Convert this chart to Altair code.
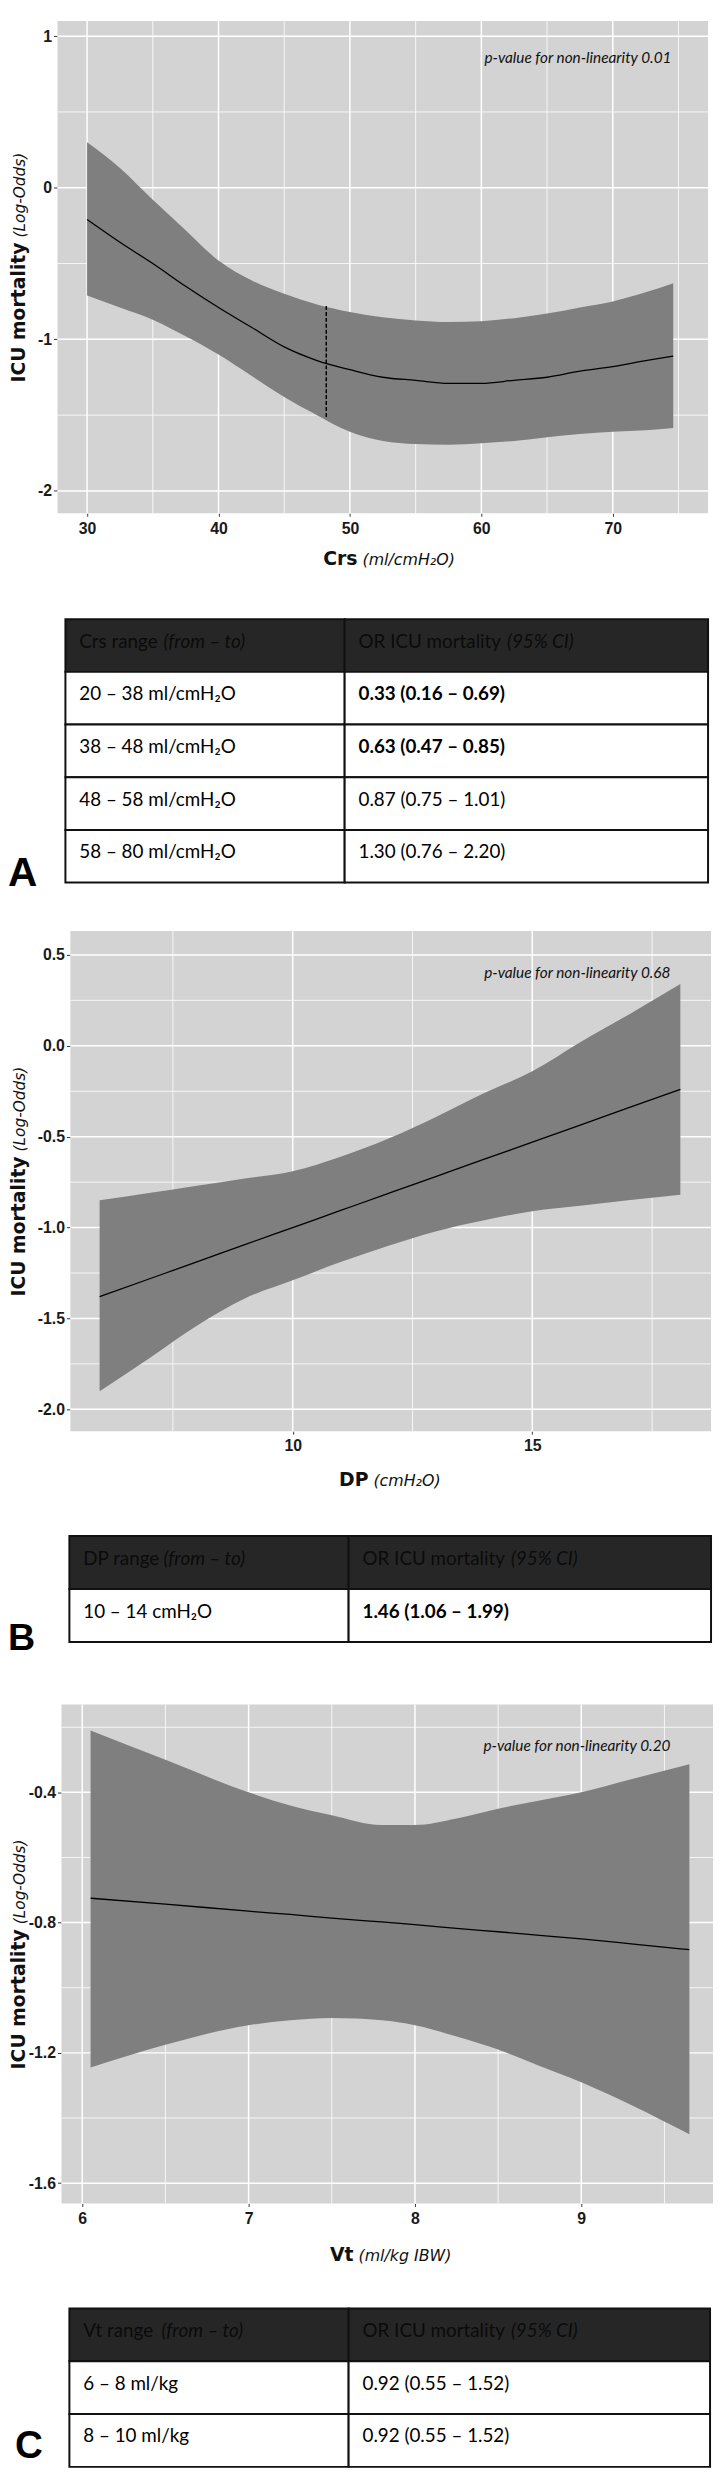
import altair as alt
import pandas as pd

# ---------------- Panel A : Crs ----------------
a_x = [30, 32.5, 35, 37.5, 40, 42.5, 45, 47.5, 50, 52.5, 55, 57.5, 60, 62.5, 65, 67.5, 70, 72.5, 74.6]
a_fit = [-0.21, -0.36, -0.50, -0.65, -0.79, -0.92, -1.05, -1.14, -1.20, -1.25, -1.27, -1.29, -1.29,
         -1.27, -1.25, -1.21, -1.18, -1.14, -1.11]
a_upper = [0.30, 0.13, -0.08, -0.28, -0.48, -0.61, -0.70, -0.77, -0.82, -0.855, -0.875, -0.885, -0.88,
           -0.86, -0.83, -0.79, -0.75, -0.69, -0.63]
a_lower = [-0.71, -0.79, -0.87, -0.98, -1.10, -1.24, -1.38, -1.50, -1.61, -1.67, -1.69, -1.695, -1.685,
           -1.67, -1.645, -1.625, -1.61, -1.60, -1.585]
a_cut_x = [48.2]
a_cut_top = [-0.78]
a_cut_bottom = [-1.52]
a_x_ticks = [30, 40, 50, 60, 70]
a_x_minor = [35, 45, 55, 65, 75]
a_y_ticks = [-2, -1, 0, 1]
a_y_minor = [-1.5, -0.5, 0.5]
a_x_domain = [27.75, 77.25]
a_y_domain = [-2.147, 1.099]
a_pvalue = ["p-value for non-linearity 0.01"]
a_xtitle = ["Crs", "(ml/cmH\u2082O)"]
a_head = ["Crs range", "(from \u2013 to)", "OR ICU mortality", "(95% CI)"]
a_ranges = ["20 \u2013 38 ml/cmH\u2082O", "38 \u2013 48 ml/cmH\u2082O", "48 \u2013 58 ml/cmH\u2082O", "58 \u2013 80 ml/cmH\u2082O"]
a_or = ["0.33 (0.16 \u2013 0.69)", "0.63 (0.47 \u2013 0.85)", "0.87 (0.75 \u2013 1.01)", "1.30 (0.76 \u2013 2.20)"]
a_bold = [True, True, False, False]   # significant OR values shown in bold
a_letter = ["A"]

# ---------------- Panel B : DP ----------------
b_x = [5.97, 7, 8, 9, 10, 11, 12, 13, 14, 15, 16, 17, 18.09]
b_fit = [-1.38, -1.283, -1.189, -1.094, -1.0, -0.906, -0.812, -0.718, -0.624, -0.53, -0.436, -0.342, -0.24]
b_upper = [-0.85, -0.81, -0.77, -0.73, -0.69, -0.61, -0.51, -0.39, -0.26, -0.14, 0.02, 0.17, 0.34]
b_lower = [-1.90, -1.72, -1.54, -1.39, -1.29, -1.19, -1.10, -1.02, -0.96, -0.91, -0.88, -0.85, -0.82]
b_x_ticks = [10, 15]
b_x_minor = [7.5, 12.5, 17.5]
b_y_ticks = [-2.0, -1.5, -1.0, -0.5, 0.0, 0.5]
b_y_minor = [-1.75, -1.25, -0.75, -0.25, 0.25]
b_x_domain = [5.36, 18.73]
b_y_domain = [-2.12, 0.631]
b_pvalue = ["p-value for non-linearity 0.68"]
b_xtitle = ["DP", "(cmH\u2082O)"]
b_head = ["DP range", "(from \u2013 to)", "OR ICU mortality", "(95% CI)"]
b_ranges = ["10 \u2013 14 cmH\u2082O"]
b_or = ["1.46 (1.06 \u2013 1.99)"]
b_bold = [True]
b_letter = ["B"]

# ---------------- Panel C : Vt ----------------
c_x = [6.05, 6.5, 7.0, 7.25, 7.5, 7.8, 8.0, 8.25, 8.5, 8.75, 9.0, 9.3, 9.65]
c_fit = [-0.725, -0.743, -0.765, -0.775, -0.786, -0.798, -0.806, -0.818, -0.828, -0.839, -0.85, -0.865, -0.883]
c_upper = [-0.21, -0.30, -0.40, -0.44, -0.47, -0.50, -0.50, -0.48, -0.45, -0.425, -0.40, -0.36, -0.314]
c_lower = [-1.245, -1.175, -1.115, -1.10, -1.093, -1.10, -1.115, -1.15, -1.19, -1.24, -1.29, -1.36, -1.45]
c_x_ticks = [6, 7, 8, 9]
c_x_minor = [6.5, 7.5, 8.5, 9.5]
c_y_ticks = [-1.6, -1.2, -0.8, -0.4]
c_y_minor = [-1.4, -1.0, -0.6, -0.2]
c_x_domain = [5.875, 9.792]
c_y_domain = [-1.6625, -0.13]
c_pvalue = ["p-value for non-linearity 0.20"]
c_xtitle = ["Vt", "(ml/kg IBW)"]
c_head = ["Vt range", "(from \u2013 to)", "OR ICU mortality", "(95% CI)"]
c_ranges = ["6 \u2013 8 ml/kg", "8 \u2013 10 ml/kg"]
c_or = ["0.92 (0.55 \u2013 1.52)", "0.92 (0.55 \u2013 1.52)"]
c_bold = [False, False]
c_letter = ["C"]

y_title = ["ICU mortality", "(Log-Odds)"]

# ---------------- styling ----------------
BG = "#d3d3d3"
BAND = "#7f7f7f"
TICK_FONT = "Liberation Sans"
TITLE_FONT = "DejaVu Sans"
TABLE_FONT = "Lato, Open Sans, DejaVu Sans"
MINUS_FIX = "replace(datum.label, '\u2212', '-')"


def make_axis(values, fmt, orient, offset=0):
    kw = dict(values=values, format=fmt, labelExpr=MINUS_FIX, grid=False, domain=False, ticks=True,
              tickColor="#333333", tickWidth=1, tickSize=4 if orient == "y" else 3,
              labelFont=TICK_FONT, labelFontSize=16, labelFontWeight="bold", labelColor="#1a1a1a",
              labelPadding=2 if orient == "y" else 4, title=None, labelFlush=False, labelOverlap=False)
    if offset:
        kw["offset"] = offset
    return alt.Axis(**kw)


def text_layer(values, **kw):
    pos = {k: kw.pop(k) for k in ("x", "y")}
    return alt.Chart(pd.DataFrame({"t": values})).mark_text(**kw).encode(
        text="t:N", x=alt.value(pos["x"]), y=alt.value(pos["y"]))


def panel(xs, fit, up, lo, xdom, ydom, xt, xm, yt, ym, yfmt, dx, w, h,
          pval, pval_x, pval_y, xtitle, xj, xbase, ybase, cut=None):
    x0, x1 = dx, dx + w
    xsc = alt.Scale(domain=xdom, range=[x0, x1], nice=False, zero=False)
    ysc = alt.Scale(domain=ydom, nice=False, zero=False)
    xax = make_axis(xt, "d", "x")
    yax = make_axis(yt, yfmt, "y", offset=-dx)

    def X(f):
        return alt.X(f, type="quantitative", scale=xsc, axis=xax)

    def Y(f):
        return alt.Y(f, type="quantitative", scale=ysc, axis=yax)

    df = pd.DataFrame({"x": xs, "fit": fit, "up": up, "lo": lo})
    layers = [
        alt.Chart(pd.DataFrame({"p": [0]})).mark_rect(color=BG).encode(
            x=alt.value(x0), x2=alt.value(x1), y=alt.value(0), y2=alt.value(h)),
        alt.Chart(pd.DataFrame({"v": xm})).mark_rule(color="white", strokeWidth=0.8).encode(x=X("v")),
        alt.Chart(pd.DataFrame({"v": ym})).mark_rule(color="white", strokeWidth=0.8).encode(
            y=Y("v"), x=alt.value(x0), x2=alt.value(x1)),
        alt.Chart(pd.DataFrame({"v": xt})).mark_rule(color="white", strokeWidth=1.5).encode(x=X("v")),
        alt.Chart(pd.DataFrame({"v": yt})).mark_rule(color="white", strokeWidth=1.5).encode(
            y=Y("v"), x=alt.value(x0), x2=alt.value(x1)),
        alt.Chart(df).mark_area(color=BAND, opacity=1, interpolate="monotone").encode(
            x=X("x"), y=Y("up"), y2=alt.Y2("lo")),
        alt.Chart(df).mark_line(color="black", strokeWidth=1.3, interpolate="monotone").encode(
            x=X("x"), y=Y("fit")),
    ]
    if cut is not None:
        cdf = pd.DataFrame({"x": cut[0], "top": cut[1], "bot": cut[2]})
        layers.append(alt.Chart(cdf).mark_rule(color="black", strokeWidth=1.5, strokeDash=[4, 2]).encode(
            x=X("x"), y=Y("top"), y2=alt.Y2("bot")))
    layers.append(text_layer(pval, x=pval_x, y=pval_y, align="right", baseline="middle",
                             font="Lato", fontStyle="italic", fontSize=15.5, color="#111111"))
    layers.append(text_layer([xtitle[0]], x=xj, y=h + xbase, align="right", baseline="alphabetic",
                             font=TITLE_FONT, fontWeight="bold", fontSize=19, color="#111111"))
    layers.append(text_layer([xtitle[1]], x=xj + 5, y=h + xbase, align="left", baseline="alphabetic",
                             font=TITLE_FONT, fontStyle="italic", fontSize=16, color="#111111"))
    c = h / 2
    layers.append(text_layer([y_title[0]], x=ybase, y=c - 25, align="right", baseline="alphabetic",
                             angle=270, font=TITLE_FONT, fontWeight="bold", fontSize=19, color="#111111"))
    layers.append(text_layer([y_title[1]], x=ybase, y=c - 30, align="left", baseline="alphabetic",
                             angle=270, font=TITLE_FONT, fontStyle="italic", fontSize=15.5, color="#111111"))
    return alt.layer(*layers).properties(width=x1, height=h)


def table(head, ranges, ors, bolds, dx, w1, w2, h, ital1, ital2, letter, letter_pos):
    n = len(ranges) + 1
    ysc = alt.Scale(domain=list(range(n)), paddingInner=0, paddingOuter=0)
    Yr = alt.Y("row:O", scale=ysc, axis=None)
    fill = alt.Color("kind:N", scale=alt.Scale(domain=["head", "bold", "norm"],
                                               range=["#262626", "#ffffff", "#ffffff"]), legend=None)
    tkw = dict(align="left", baseline="middle", dy=-4, font=TABLE_FONT, fontSize=19)
    layers = []
    # only the OR column carries the bold (significant) emphasis
    cols = [(dx, w1, head[0], head[1], ital1, ranges, [False] * len(ranges)),
            (dx + w1, w2, head[2], head[3], ital2, ors, bolds)]
    for left, w, hmain, hital, ix, cells, bflags in cols:
        kinds = ["head"] + ["bold" if b else "norm" for b in bflags]
        df = pd.DataFrame({"row": list(range(n)), "kind": kinds, "txt": [hmain] + list(cells)})
        base = alt.Chart(df)
        layers.append(base.mark_rect(stroke="#111111", strokeWidth=2).encode(
            y=Yr, x=alt.value(left), x2=alt.value(left + w), color=fill))
        enc = dict(y=Yr, x=alt.value(left + 14), text="txt:N")
        layers.append(base.mark_text(color="black", **tkw).encode(**enc).transform_filter(
            "datum.kind == 'norm'"))
        layers.append(base.mark_text(color="black", fontWeight="bold", **tkw).encode(**enc).transform_filter(
            "datum.kind == 'bold'"))
        layers.append(base.mark_text(color="#0b0b0b", **tkw).encode(**enc).transform_filter(
            "datum.kind == 'head'"))
        layers.append(alt.Chart(pd.DataFrame({"row": [0], "t": [hital]})).mark_text(
            color="#0b0b0b", fontStyle="italic", **tkw).encode(y=Yr, x=alt.value(left + ix), text="t:N"))
    layers.append(text_layer(letter, x=letter_pos[0], y=letter_pos[1], align="left",
                             baseline="alphabetic", font="Liberation Sans", fontWeight="bold",
                             fontSize=letter_pos[2], color="black"))
    return alt.layer(*layers).properties(width=dx + w1 + w2, height=h)


def spacer(h):
    return alt.Chart(pd.DataFrame({"s": [0]})).mark_point(opacity=0, size=1).encode(
        x=alt.value(0), y=alt.value(0)).properties(width=1, height=h)


plot_a = panel(a_x, a_fit, a_upper, a_lower, a_x_domain, a_y_domain, a_x_ticks, a_x_minor,
               a_y_ticks, a_y_minor, "d", 0, 657, 497, a_pvalue, 620, 37, a_xtitle, 303, 52, -33,
               cut=(a_cut_x, a_cut_top, a_cut_bottom))
plot_b = panel(b_x, b_fit, b_upper, b_lower, b_x_domain, b_y_domain, b_x_ticks, b_x_minor,
               b_y_ticks, b_y_minor, ".1f", 13, 647, 505, b_pvalue, 619, 42, b_xtitle, 314, 55, -33)
plot_c = panel(c_x, c_fit, c_upper, c_lower, c_x_domain, c_y_domain, c_x_ticks, c_x_minor,
               c_y_ticks, c_y_minor, ".1f", 4, 658, 504, c_pvalue, 619, 42, c_xtitle, 299, 58, -33)

tab_a = table(a_head, a_ranges, a_or, a_bold, 8, 282, 367, 266, 99, 164, a_letter, (-50, 269, 41))
tab_b = table(b_head, b_ranges, b_or, b_bold, 12, 282, 366, 107, 95, 164, b_letter, (-50, 115, 38))
tab_c = table(c_head, c_ranges, c_or, c_bold, 12, 282, 365, 160, 93, 164, c_letter, (-43, 151, 39))

chart = alt.vconcat(
    plot_a, spacer(107), tab_a, spacer(49), plot_b, spacer(106), tab_b,
    spacer(63), plot_c, spacer(106), tab_c,
    spacing=0, bounds="flush"
).configure_view(strokeWidth=0).properties(padding=0)

chart.save("out.html", embed_options={"renderer": "svg", "actions": False})
